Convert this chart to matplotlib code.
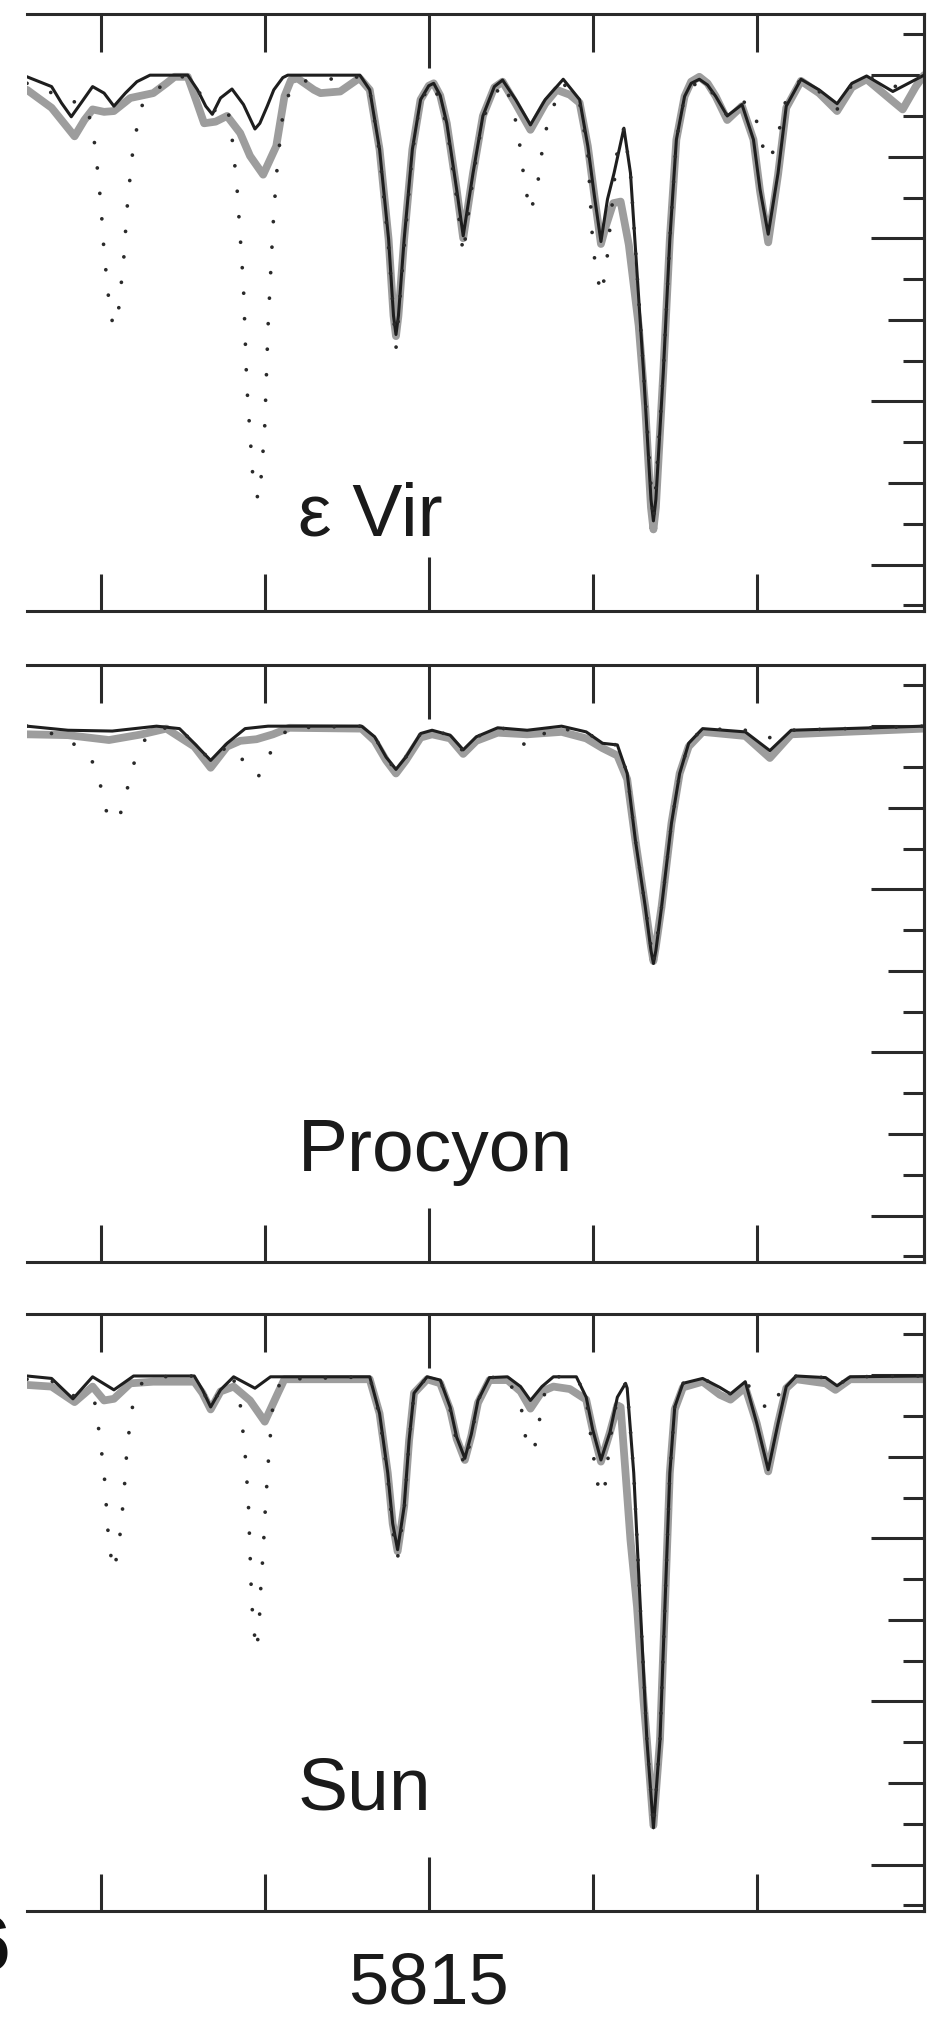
import matplotlib
matplotlib.use('Agg')
import matplotlib.pyplot as plt
from matplotlib.ticker import FixedLocator, FixedFormatter, NullFormatter

plt.rcParams['font.family'] = ['Liberation Sans', 'DejaVu Sans']

# (wavelength [A], normalised flux) pairs
EPS_OBS = [
    (5812.55, 0.982), (5812.70, 0.960), (5812.84, 0.925), (5812.90, 0.945), (5812.95, 0.958),
    (5813.02, 0.955), (5813.08, 0.956), (5813.18, 0.972), (5813.32, 0.978), (5813.40, 0.990),
    (5813.45, 0.998), (5813.53, 0.998), (5813.58, 0.970), (5813.63, 0.941), (5813.70, 0.943),
    (5813.77, 0.950), (5813.85, 0.929), (5813.91, 0.901), (5813.99, 0.878), (5814.07, 0.913),
    (5814.12, 0.974), (5814.16, 0.994), (5814.20, 0.996), (5814.30, 0.982), (5814.34, 0.978),
    (5814.46, 0.980), (5814.56, 0.994), (5814.58, 0.996), (5814.64, 0.982), (5814.70, 0.909),
    (5814.755, 0.799), (5814.785, 0.705), (5814.80, 0.680), (5814.815, 0.705), (5814.85, 0.799),
    (5814.90, 0.909), (5814.95, 0.970), (5815.00, 0.987), (5815.03, 0.990), (5815.07, 0.975),
    (5815.11, 0.941), (5815.17, 0.860), (5815.21, 0.800), (5815.27, 0.880), (5815.33, 0.950),
    (5815.40, 0.985), (5815.45, 0.992), (5815.53, 0.965), (5815.62, 0.933), (5815.71, 0.965),
    (5815.78, 0.982), (5815.86, 0.976), (5815.92, 0.966), (5815.97, 0.913), (5816.01, 0.852),
    (5816.05, 0.793), (5816.08, 0.815), (5816.125, 0.843), (5816.17, 0.845), (5816.22, 0.792),
    (5816.28, 0.693), (5816.32, 0.593), (5816.355, 0.470), (5816.37, 0.443), (5816.385, 0.470),
    (5816.43, 0.635), (5816.47, 0.799), (5816.51, 0.921), (5816.56, 0.974), (5816.60, 0.992),
    (5816.65, 0.998), (5816.70, 0.990), (5816.75, 0.974), (5816.82, 0.945), (5816.91, 0.962),
    (5816.98, 0.921), (5817.02, 0.858), (5817.07, 0.795), (5817.13, 0.878), (5817.18, 0.960),
    (5817.27, 0.993), (5817.38, 0.978), (5817.49, 0.956), (5817.58, 0.985), (5817.67, 0.995),
    (5817.83, 0.968), (5817.89, 0.958), (5817.97, 0.986), (5818.02, 1.000),
]
EPS_MODEL = [
    (5812.55, 0.998), (5812.70, 0.986), (5812.76, 0.966), (5812.82, 0.949), (5812.88, 0.966),
    (5812.95, 0.986), (5813.02, 0.978), (5813.08, 0.962), (5813.15, 0.978), (5813.22, 0.992),
    (5813.30, 1.000), (5813.53, 1.000), (5813.59, 0.982), (5813.64, 0.962), (5813.68, 0.952),
    (5813.73, 0.972), (5813.80, 0.983), (5813.87, 0.964), (5813.94, 0.934), (5813.97, 0.941),
    (5814.015, 0.962), (5814.055, 0.982), (5814.11, 0.997), (5814.14, 1.000), (5814.58, 1.000),
    (5814.64, 0.982), (5814.70, 0.909), (5814.755, 0.799), (5814.785, 0.705), (5814.80, 0.682),
    (5814.815, 0.705), (5814.85, 0.799), (5814.90, 0.909), (5814.95, 0.970), (5815.00, 0.987),
    (5815.03, 0.990), (5815.07, 0.975), (5815.11, 0.941), (5815.17, 0.860), (5815.21, 0.803),
    (5815.27, 0.880), (5815.33, 0.950), (5815.40, 0.986), (5815.45, 0.994), (5815.53, 0.970),
    (5815.62, 0.939), (5815.71, 0.970), (5815.82, 0.995), (5815.92, 0.970), (5815.97, 0.913),
    (5816.01, 0.852), (5816.05, 0.796), (5816.09, 0.848), (5816.13, 0.880), (5816.19, 0.935),
    (5816.23, 0.880), (5816.27, 0.758), (5816.31, 0.635), (5816.355, 0.480), (5816.37, 0.4535),
    (5816.385, 0.480), (5816.43, 0.635), (5816.47, 0.799), (5816.51, 0.921), (5816.56, 0.974),
    (5816.60, 0.990), (5816.65, 0.995), (5816.70, 0.988), (5816.75, 0.974), (5816.82, 0.950),
    (5816.91, 0.964), (5816.98, 0.921), (5817.02, 0.860), (5817.07, 0.805), (5817.13, 0.880),
    (5817.18, 0.962), (5817.27, 0.995), (5817.38, 0.982), (5817.49, 0.965), (5817.58, 0.990),
    (5817.67, 0.999), (5817.83, 0.980), (5818.02, 1.000),
]
EPS_ALT = [
    (5812.55, 0.990), (5812.645, 0.984), (5812.78, 0.970), (5812.91, 0.964), (5812.95, 0.934),
    (5812.97, 0.904), (5813.00, 0.843), (5813.02, 0.783), (5813.05, 0.722), (5813.075, 0.692),
    (5813.11, 0.715), (5813.14, 0.775), (5813.16, 0.836), (5813.19, 0.899), (5813.24, 0.960),
    (5813.335, 0.982), (5813.46, 0.998), (5813.53, 0.998), (5813.59, 0.982), (5813.68, 0.955),
    (5813.77, 0.965), (5813.80, 0.924), (5813.83, 0.864), (5813.85, 0.803), (5813.87, 0.741),
    (5813.88, 0.681), (5813.89, 0.621), (5813.91, 0.560), (5813.93, 0.499), (5813.96, 0.480),
    (5813.98, 0.511), (5814.00, 0.571), (5814.01, 0.632), (5814.02, 0.692), (5814.035, 0.754),
    (5814.05, 0.814), (5814.07, 0.875), (5814.10, 0.935), (5814.12, 0.966), (5814.19, 0.992),
    (5814.58, 0.998), (5814.64, 0.982), (5814.70, 0.905), (5814.755, 0.790), (5814.80, 0.665),
    (5814.85, 0.790), (5814.90, 0.905), (5814.95, 0.970), (5815.03, 0.990), (5815.11, 0.938),
    (5815.17, 0.850), (5815.21, 0.780), (5815.27, 0.875), (5815.33, 0.948), (5815.45, 0.992),
    (5815.51, 0.965), (5815.55, 0.922), (5815.57, 0.890), (5815.59, 0.861), (5815.62, 0.832),
    (5815.66, 0.861), (5815.68, 0.890), (5815.70, 0.921), (5815.74, 0.952), (5815.82, 0.990),
    (5815.92, 0.966), (5815.97, 0.905), (5816.00, 0.792), (5816.02, 0.762), (5816.05, 0.731),
    (5816.08, 0.760), (5816.15, 0.909), (5816.19, 0.935), (5816.23, 0.880), (5816.27, 0.758),
    (5816.31, 0.635), (5816.37, 0.450), (5816.43, 0.635), (5816.47, 0.799), (5816.51, 0.921),
    (5816.56, 0.974), (5816.65, 0.995), (5816.75, 0.974), (5816.82, 0.950), (5816.91, 0.968),
    (5816.98, 0.962), (5817.01, 0.933), (5817.05, 0.903), (5817.08, 0.895), (5817.11, 0.913),
    (5817.15, 0.943), (5817.18, 0.972), (5817.27, 0.995), (5817.38, 0.980), (5817.49, 0.958),
    (5817.58, 0.988), (5817.67, 0.999), (5817.83, 0.985), (5817.89, 0.990), (5818.02, 1.000),
]

PROC_OBS = [
    (5812.55, 0.990), (5812.80, 0.989), (5813.05, 0.983), (5813.25, 0.990), (5813.40, 0.997),
    (5813.57, 0.975), (5813.67, 0.949), (5813.77, 0.975), (5813.85, 0.982), (5813.95, 0.984),
    (5814.05, 0.990), (5814.15, 0.998), (5814.59, 0.997), (5814.67, 0.982), (5814.74, 0.958),
    (5814.80, 0.942), (5814.86, 0.958), (5814.95, 0.986), (5815.02, 0.990), (5815.13, 0.985),
    (5815.21, 0.966), (5815.29, 0.982), (5815.42, 0.992), (5815.60, 0.990), (5815.81, 0.993),
    (5815.96, 0.985), (5816.06, 0.973), (5816.15, 0.964), (5816.21, 0.935), (5816.26, 0.860),
    (5816.32, 0.779), (5816.355, 0.730), (5816.37, 0.712), (5816.385, 0.730), (5816.42, 0.779),
    (5816.48, 0.881), (5816.53, 0.942), (5816.585, 0.975), (5816.67, 0.993), (5816.93, 0.988),
    (5817.08, 0.961), (5817.21, 0.990), (5817.54, 0.993), (5818.02, 0.997),
]
PROC_MODEL = [
    (5812.55, 1.000), (5812.80, 0.995), (5813.07, 0.994), (5813.34, 1.000), (5813.48, 0.997),
    (5813.57, 0.979), (5813.67, 0.958), (5813.77, 0.979), (5813.88, 0.997), (5814.02, 1.000),
    (5814.59, 1.000), (5814.67, 0.987), (5814.74, 0.962), (5814.80, 0.947), (5814.86, 0.962),
    (5814.95, 0.991), (5815.02, 0.995), (5815.13, 0.989), (5815.21, 0.971), (5815.29, 0.987),
    (5815.42, 0.998), (5815.60, 0.995), (5815.81, 1.000), (5815.96, 0.993), (5816.06, 0.979),
    (5816.15, 0.977), (5816.21, 0.942), (5816.26, 0.860), (5816.32, 0.779), (5816.355, 0.725),
    (5816.37, 0.709), (5816.385, 0.725), (5816.42, 0.779), (5816.48, 0.881), (5816.53, 0.942),
    (5816.585, 0.979), (5816.67, 0.997), (5816.93, 0.993), (5817.08, 0.970), (5817.21, 0.995),
    (5817.54, 0.997), (5818.02, 1.000),
]
PROC_ALT = [
    (5812.55, 1.000), (5812.80, 0.985), (5812.95, 0.956), (5813.00, 0.926), (5813.03, 0.897),
    (5813.105, 0.883), (5813.15, 0.913), (5813.19, 0.948), (5813.25, 0.979), (5813.34, 0.998),
    (5813.48, 0.997), (5813.57, 0.979), (5813.67, 0.958), (5813.77, 0.975), (5813.82, 0.973),
    (5813.91, 0.944), (5813.96, 0.938), (5814.00, 0.952), (5814.06, 0.979), (5814.15, 0.998),
    (5814.59, 1.000), (5814.67, 0.987), (5814.74, 0.962), (5814.80, 0.945), (5814.86, 0.962),
    (5814.95, 0.991), (5815.02, 0.995), (5815.13, 0.989), (5815.21, 0.969), (5815.29, 0.987),
    (5815.45, 0.998), (5815.60, 0.975), (5815.75, 0.998), (5815.96, 0.993), (5816.06, 0.979),
    (5816.15, 0.977), (5816.21, 0.942), (5816.26, 0.860), (5816.32, 0.779), (5816.37, 0.709),
    (5816.42, 0.779), (5816.48, 0.881), (5816.53, 0.942), (5816.585, 0.979), (5816.67, 0.997),
    (5816.93, 0.995), (5817.08, 0.986), (5817.21, 0.995), (5817.54, 0.997), (5818.02, 1.000),
]

SUN_OBS = [
    (5812.55, 0.988), (5812.70, 0.986), (5812.84, 0.967), (5812.95, 0.986), (5813.02, 0.969),
    (5813.08, 0.971), (5813.18, 0.990), (5813.32, 0.992), (5813.57, 0.992), (5813.62, 0.978),
    (5813.67, 0.958), (5813.73, 0.980), (5813.81, 0.986), (5813.91, 0.969), (5814.00, 0.943),
    (5814.08, 0.978), (5814.12, 0.995), (5814.64, 0.995), (5814.70, 0.953), (5814.75, 0.880),
    (5814.78, 0.818), (5814.81, 0.784), (5814.85, 0.839), (5814.88, 0.920), (5814.91, 0.978),
    (5814.99, 0.995), (5815.07, 0.990), (5815.13, 0.958), (5815.17, 0.922), (5815.22, 0.896),
    (5815.26, 0.926), (5815.30, 0.966), (5815.37, 0.994), (5815.48, 0.994), (5815.56, 0.980),
    (5815.62, 0.959), (5815.69, 0.980), (5815.76, 0.986), (5815.86, 0.983), (5815.96, 0.970),
    (5816.00, 0.933), (5816.05, 0.894), (5816.105, 0.930), (5816.15, 0.963), (5816.17, 0.961),
    (5816.20, 0.880), (5816.23, 0.798), (5816.27, 0.716), (5816.31, 0.600), (5816.33, 0.553),
    (5816.37, 0.448), (5816.41, 0.553), (5816.44, 0.716), (5816.47, 0.880), (5816.50, 0.958),
    (5816.55, 0.985), (5816.67, 0.992), (5816.775, 0.976), (5816.84, 0.970), (5816.93, 0.985),
    (5817.00, 0.941), (5817.07, 0.882), (5817.13, 0.941), (5817.18, 0.984), (5817.24, 0.995),
    (5817.42, 0.990), (5817.48, 0.982), (5817.57, 0.995), (5818.02, 0.995),
]
SUN_MODEL = [
    (5812.55, 0.999), (5812.70, 0.996), (5812.83, 0.971), (5812.95, 0.998), (5813.08, 0.982),
    (5813.20, 0.999), (5813.57, 0.999), (5813.62, 0.982), (5813.67, 0.961), (5813.73, 0.982),
    (5813.81, 0.998), (5813.94, 0.984), (5814.035, 0.998), (5814.64, 0.998), (5814.70, 0.953),
    (5814.75, 0.880), (5814.78, 0.818), (5814.81, 0.786), (5814.85, 0.839), (5814.88, 0.920),
    (5814.91, 0.978), (5814.99, 0.998), (5815.07, 0.994), (5815.13, 0.961), (5815.17, 0.924),
    (5815.22, 0.898), (5815.26, 0.928), (5815.30, 0.969), (5815.37, 0.997), (5815.48, 0.998),
    (5815.56, 0.986), (5815.62, 0.969), (5815.69, 0.986), (5815.76, 0.998), (5815.90, 0.998),
    (5815.96, 0.973), (5816.00, 0.933), (5816.05, 0.896), (5816.105, 0.930), (5816.15, 0.973),
    (5816.20, 0.990), (5816.21, 0.984), (5816.25, 0.880), (5816.29, 0.716), (5816.33, 0.553),
    (5816.37, 0.445), (5816.41, 0.553), (5816.44, 0.716), (5816.47, 0.880), (5816.50, 0.961),
    (5816.55, 0.990), (5816.67, 0.996), (5816.775, 0.985), (5816.84, 0.977), (5816.93, 0.992),
    (5817.00, 0.941), (5817.07, 0.884), (5817.13, 0.941), (5817.18, 0.986), (5817.24, 0.999),
    (5817.42, 0.997), (5817.49, 0.987), (5817.57, 0.998), (5818.02, 0.999),
]
SUN_ALT = [
    (5812.55, 0.995), (5812.70, 0.993), (5812.83, 0.975), (5812.96, 0.971), (5812.99, 0.930),
    (5813.02, 0.881), (5813.05, 0.790), (5813.08, 0.761), (5813.11, 0.790), (5813.14, 0.851),
    (5813.16, 0.911), (5813.19, 0.959), (5813.25, 0.990), (5813.35, 0.998), (5813.57, 0.999),
    (5813.62, 0.982), (5813.67, 0.961), (5813.73, 0.982), (5813.81, 0.995), (5813.85, 0.965),
    (5813.88, 0.904), (5813.90, 0.843), (5813.91, 0.783), (5813.92, 0.722), (5813.935, 0.685),
    (5813.95, 0.663), (5813.965, 0.690), (5813.975, 0.737), (5813.99, 0.783), (5814.005, 0.843),
    (5814.025, 0.904), (5814.05, 0.965), (5814.10, 0.995), (5814.64, 0.998), (5814.70, 0.950),
    (5814.75, 0.875), (5814.78, 0.810), (5814.81, 0.776), (5814.85, 0.835), (5814.88, 0.918),
    (5814.91, 0.978), (5814.99, 0.998), (5815.07, 0.994), (5815.13, 0.958), (5815.17, 0.918),
    (5815.22, 0.889), (5815.26, 0.925), (5815.30, 0.969), (5815.37, 0.997), (5815.48, 0.998),
    (5815.57, 0.955), (5815.59, 0.924), (5815.64, 0.906), (5815.67, 0.936), (5815.69, 0.970),
    (5815.76, 0.998), (5815.90, 0.998), (5815.96, 0.973), (5816.00, 0.905), (5816.02, 0.883),
    (5816.04, 0.852), (5816.075, 0.865), (5816.105, 0.920), (5816.15, 0.973), (5816.20, 0.990),
    (5816.21, 0.984), (5816.25, 0.880), (5816.29, 0.716), (5816.33, 0.553), (5816.37, 0.445),
    (5816.41, 0.553), (5816.44, 0.716), (5816.47, 0.880), (5816.50, 0.961), (5816.55, 0.990),
    (5816.67, 0.996), (5816.775, 0.985), (5816.84, 0.977), (5816.93, 0.992), (5817.00, 0.975),
    (5817.07, 0.956), (5817.13, 0.975), (5817.18, 0.990), (5817.24, 0.999), (5817.42, 0.997),
    (5817.49, 0.987), (5817.57, 0.998), (5818.02, 0.999),
]

STARS = ['ε Vir', 'Procyon', 'Sun']
LABEL_FLUX = [0.435, 0.454, 0.467]   # baseline of the star name
WL_RANGE = (5812.55, 5818.02)
FLUX_RANGE = (0.343, 1.075)
X_MAJOR = [5815]
X_MINOR = [5813, 5814, 5816, 5817]
Y_MAJOR = [0.4, 0.6, 0.8, 1.0]
Y_MID = [0.5, 0.7, 0.9]
Y_MINOR = [0.35, 0.45, 0.55, 0.65, 0.75, 0.85, 0.95, 1.05]

panels = [(EPS_OBS, EPS_MODEL, EPS_ALT),
          (PROC_OBS, PROC_MODEL, PROC_ALT),
          (SUN_OBS, SUN_MODEL, SUN_ALT)]

W, H = 944, 2019
# panel top / bottom in pixels
panel_px = [(14, 611), (665, 1262), (1314, 1911)]
ink = '#2a2a2a'

fig = plt.figure(figsize=(W / 100, H / 100), dpi=100)

for i, (obs, model, alt) in enumerate(panels):
    top, bot = panel_px[i]
    ax = fig.add_axes([27 / W, 1 - bot / H, (924 - 27) / W, (bot - top) / H])

    ax.plot(*zip(*obs), color='#9d9d9d', lw=5.6, solid_capstyle='round',
            solid_joinstyle='round', zorder=2)
    ax.plot(*zip(*model), color='#1e1e1e', lw=2.2, solid_joinstyle='round', zorder=3)
    ax.plot(*zip(*alt), color='#2a2a2a', lw=2.7, linestyle=(0, (0.01, 6.8)),
            dash_capstyle='round', zorder=4)

    ax.set_xlim(*WL_RANGE)
    ax.set_ylim(*FLUX_RANGE)

    ax.spines['left'].set_visible(False)
    for s in ('top', 'bottom', 'right'):
        ax.spines[s].set_linewidth(2.2)
        ax.spines[s].set_color(ink)

    ax.xaxis.set_major_locator(FixedLocator(X_MAJOR))
    ax.xaxis.set_minor_locator(FixedLocator(X_MINOR))
    ax.xaxis.set_minor_formatter(NullFormatter())
    ax.xaxis.set_major_formatter(FixedFormatter([str(v) for v in X_MAJOR]))
    ax.tick_params(axis='x', which='both', direction='in', top=True, bottom=True,
                   width=2.2, color=ink, labelsize=52, labelcolor='#1a1a1a', pad=29,
                   labelbottom=(i == 2))
    ax.tick_params(axis='x', which='major', length=39)
    ax.tick_params(axis='x', which='minor', length=27)

    ax.yaxis.set_major_locator(FixedLocator(Y_MAJOR))
    ax.yaxis.set_minor_locator(FixedLocator(Y_MINOR))
    ax.tick_params(axis='y', which='both', direction='in', left=False, right=True,
                   labelleft=False, labelright=False, width=2.2, color=ink)
    ax.tick_params(axis='y', which='major', length=38)
    ax.tick_params(axis='y', which='minor', length=15)

    sec = ax.secondary_yaxis('right')
    sec.set_yticks(Y_MID)
    sec.tick_params(axis='y', direction='in', length=26, width=2.2, color=ink,
                    labelright=False)
    sec.spines['right'].set_linewidth(2.2)
    sec.spines['right'].set_color(ink)

    ax.text(5814.2, LABEL_FLUX[i], STARS[i], fontsize=54, color='#1a1a1a',
            ha='left', va='baseline', zorder=5)

# fragment of a bold label cut off at the left border
fig.text(9 / W, 1 - 1970 / H, '6', fontsize=56, fontweight='bold', color='#111111',
         ha='right', va='baseline')

fig.savefig('out.png', dpi=100)
